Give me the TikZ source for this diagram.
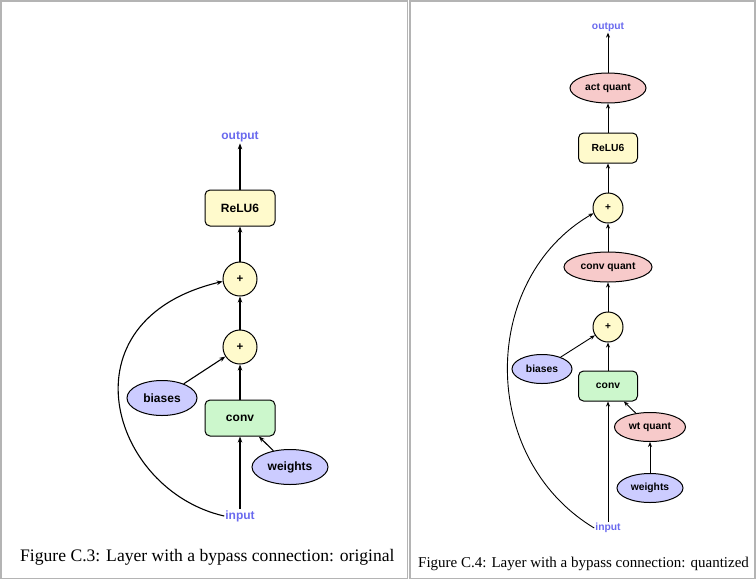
\documentclass[tikz,border=0pt]{standalone}
\usepackage{fontspec}
\setmainfont{Liberation Serif}
\setsansfont{Liberation Sans}
\usetikzlibrary{arrows.meta,shapes.geometric}
\definecolor{boxyellow}{HTML}{FFFACC}
\definecolor{convgreen}{HTML}{CCF7CC}
\definecolor{parmblue}{HTML}{CCCCFF}
\definecolor{quantred}{HTML}{F7CACA}
\definecolor{iotext}{HTML}{6A6AEE}
\definecolor{framegray}{HTML}{B4B4B4}

\begin{document}
\begin{tikzpicture}[x=1pt,y=-1pt,
  lbl/.style={font=\sffamily\bfseries\fontsize{12}{14}\selectfont},
  opbox/.style={lbl,draw,line width=1pt,rounded corners=5pt,minimum width=70pt,minimum height=36pt,inner sep=0pt},
  addnode/.style={draw,line width=1pt,circle,fill=boxyellow,minimum size=34pt,inner sep=0pt,font=\sffamily\bfseries\fontsize{11.5}{12}\selectfont},
  blob/.style={lbl,draw,line width=1pt,ellipse,minimum height=35pt,inner sep=0pt},
  iolbl/.style={lbl,text=iotext,inner sep=1pt},
  arr/.style={-{Stealth[length=6pt,width=4.5pt]},line width=1.1pt},
  small/.style={font=\sffamily\bfseries\fontsize{10.3}{12}\selectfont},
  caption/.style={anchor=base west,inner sep=0pt}]
\useasboundingbox (0,0) rectangle (756,582);
\draw[framegray,line width=1.5pt] (1,1) rectangle (407.5,578.5);
\draw[framegray,line width=1.5pt] (410,1) rectangle (755,578.5);

\node[iolbl] (out1) at (240,137) {output};
\node[opbox,fill=boxyellow] (relu1) at (240,208) {ReLU6};
\node[addnode] (addb1) at (240,279) {+};
\node[addnode] (adda1) at (240,347) {+};
\node[opbox,fill=convgreen] (conv1) at (240,418) {conv};
\node[blob,fill=parmblue,minimum width=70pt] (bias1) at (162,398) {biases};
\node[blob,fill=parmblue,minimum width=76pt] (wts1) at (290,467) {weights};
\node[iolbl] (in1) at (240,516) {input};
\draw[arr] (in1) -- (conv1);
\draw[arr] (conv1) -- (adda1);
\draw[arr] (bias1) -- (adda1);
\draw[arr] (wts1) -- (conv1);
\draw[arr] (adda1) -- (addb1);
\draw[arr] (addb1) -- (relu1);
\draw[arr] (relu1) -- (out1);
\draw[arr] (in1.west) .. controls (110,490) and (60,320) .. (addb1.188);
\node[caption,font=\fontsize{17.6}{20}\selectfont] (cap1) at (20,561) {Figure C.3: Layer with a bypass connection: original};

\begin{scope}[lbl/.style={small},arr/.style={-{Stealth[length=5pt,width=4pt]},line width=0.9pt}]
\node[iolbl] (out2) at (608,27) {output};
\node[blob,fill=quantred,minimum width=76pt,minimum height=30pt] (aq2) at (608,88) {act quant};
\node[opbox,fill=boxyellow,minimum width=59pt,minimum height=30pt] (relu2) at (608,148) {ReLU6};
\node[addnode,minimum size=30pt,font=\sffamily\bfseries\fontsize{10}{11}\selectfont] (addb2) at (608,208) {+};
\node[blob,fill=quantred,minimum width=88pt,minimum height=30pt] (cq2) at (608,267) {conv quant};
\node[addnode,minimum size=30pt,font=\sffamily\bfseries\fontsize{10}{11}\selectfont] (adda2) at (608,327) {+};
\node[opbox,fill=convgreen,minimum width=59pt,minimum height=30pt] (conv2) at (608,386) {conv};
\node[blob,fill=parmblue,minimum width=60pt,minimum height=29pt] (bias2) at (542,369) {biases};
\node[blob,fill=quantred,minimum width=71pt,minimum height=29pt] (wq2) at (650,427) {wt quant};
\node[blob,fill=parmblue,minimum width=66pt,minimum height=29pt] (wts2) at (650,488) {weights};
\node[iolbl] (in2) at (608,528) {input};
\draw[arr] (in2) -- (conv2);
\draw[arr] (conv2) -- (adda2);
\draw[arr] (bias2) -- (adda2);
\draw[arr] (wts2) -- (wq2);
\draw[arr] (wq2) -- (conv2);
\draw[arr] (adda2) -- (cq2);
\draw[arr] (cq2) -- (addb2);
\draw[arr] (addb2) -- (relu2);
\draw[arr] (relu2) -- (aq2);
\draw[arr] (aq2) -- (out2);
\draw[arr] (in2.west) .. controls (478,458) and (480,279) .. (addb2.200);
\end{scope}
\node[caption,font=\fontsize{15}{17}\selectfont] (cap2) at (418,567) {Figure C.4: Layer with a bypass connection: quantized};
\end{tikzpicture}
\end{document}
